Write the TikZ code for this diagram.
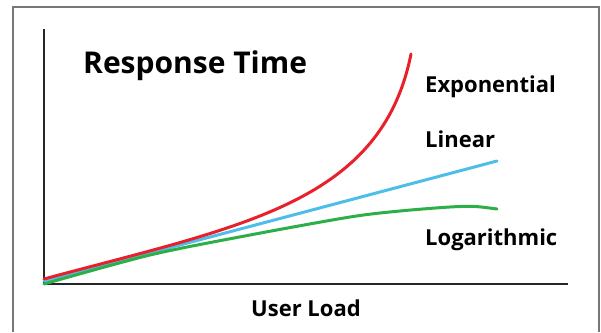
\documentclass[tikz,border=0pt]{standalone}
\usepackage{fontspec}
\setmainfont{Open Sans}
\usepackage{tikz}
\usetikzlibrary{positioning,calc}
\definecolor{expred}{HTML}{E8202A}
\definecolor{linblue}{HTML}{4DBEEA}
\definecolor{loggreen}{HTML}{2DAE47}
\definecolor{framegray}{HTML}{777777}

\begin{document}
\begin{tikzpicture}[x=1pt, y=-1pt,
    curve/.style={line width=3pt, line cap=round},
    lbl/.style={font=\bfseries\fontsize{22}{26}\selectfont, anchor=base west, inner sep=0pt}]
    \useasboundingbox (0,0) rectangle (601,332);
    % Frame
    \draw [framegray, line width=2pt] (13,332) -- (13,7) -- (599,7) -- (599,332);

    % Axes
    \coordinate (O) at (44,284);
    \coordinate (ytop) at (44,29);
    \coordinate (xend) at (568,284);
    \draw [line width=1.3pt, black!85] (ytop) -- (O) -- (xend);

    % Curves
    \coordinate (linstart) at (44,281);
    \coordinate (linend) at (497,161);
    \draw [curve, linblue] (linstart) -- (linend);
    \draw [curve, loggreen] plot[smooth] coordinates {(44,284) (150,255) (250,235) (350,217) (400,211) (450,207) (475,206.5) (497,209)};
    \coordinate (expstart) at (44,279);
    \coordinate (expend) at (411,54);
    \draw [curve, expred] (expstart) .. controls (240,226) and (381,204) .. (expend);

    % Labels
    \node (title) [lbl, font=\bfseries\fontsize{30}{36}\selectfont] at (83,73) {Response Time};
    \node (exp) [lbl] at (425,92) {Exponential};
    \node (lin) [lbl] at (425,147) {Linear};
    \node (log) [lbl] at (425,245) {Logarithmic};
    \node (load) [lbl, anchor=base] at (306,316) {User Load};
\end{tikzpicture}
\end{document}
